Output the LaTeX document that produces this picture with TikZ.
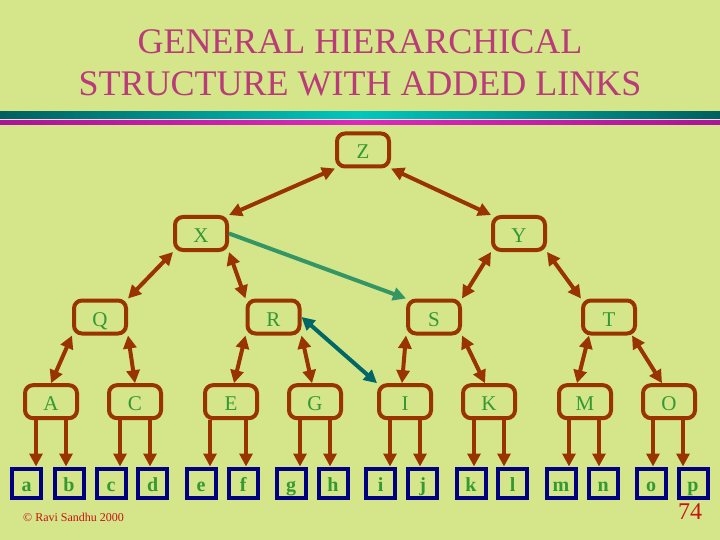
\documentclass[tikz,border=0pt]{standalone}
\usepackage{fontspec}
\setmainfont{Liberation Serif}
\usetikzlibrary{arrows.meta,calc}
\definecolor{bg}{RGB}{212,229,138}
\definecolor{brn}{RGB}{153,51,0}
\definecolor{txtg}{RGB}{51,153,51}
\definecolor{navyb}{RGB}{0,0,128}
\definecolor{ttl}{RGB}{185,60,120}
\definecolor{lnkg}{RGB}{51,150,100}
\definecolor{lnkt}{RGB}{0,102,102}
\definecolor{tealdark}{RGB}{0,95,95}
\definecolor{tealmid}{RGB}{0,200,190}
\definecolor{magdark}{RGB}{170,20,150}
\definecolor{magmid}{RGB}{220,40,190}
\definecolor{gapc}{RGB}{235,230,215}
\definecolor{redtxt}{RGB}{200,20,20}
\begin{document}
\begin{tikzpicture}[x=1pt,y=-1pt,
  box/.style={draw=brn,line width=4pt,rounded corners=8pt,minimum width=52pt,minimum height=33pt,inner sep=0pt,text=txtg,font=\fontsize{21}{21}\selectfont,text height=22pt,text depth=4pt},
  leaf/.style={draw=navyb,line width=4pt,minimum width=29pt,minimum height=29pt,inner sep=0pt,text=txtg,font=\fontsize{20}{20}\selectfont\bfseries,text height=20pt,text depth=4pt},
  ttlstyle/.style={text=ttl,font=\fontsize{36}{36}\selectfont,inner sep=0pt,anchor=base},
  tip/.tip={Triangle[length=13pt,width=13pt]},
  arr/.style={draw=brn,line width=4pt,-tip},
  darr/.style={draw=brn,line width=4pt,tip-tip},
  lnkone/.style={draw=lnkg,line width=4pt,-tip},
  lnktwo/.style={draw=lnkt,line width=4pt,tip-tip}]
\fill[bg] (0,0) rectangle (720,540);
\useasboundingbox (0,0) rectangle (720,540);
% title
\node[ttlstyle] (t1) at (360,53.5) {GENERAL HIERARCHICAL};
\node[ttlstyle] (t2) at (360,95.5) {STRUCTURE WITH ADDED LINKS};
% stripes
\shade[left color=tealdark,right color=tealdark,middle color=tealmid] (0,111.5) rectangle (720,119);
\fill[gapc] (0,119) rectangle (720,120.7);
\shade[left color=magdark,right color=magdark,middle color=magmid] (0,120.7) rectangle (720,125);
% nodes
\node[box] (Z) at (363,150) {Z};
\node[box] (X) at (201,233.5) {X};
\node[box] (Y) at (519,233.5) {Y};
\node[box] (Q) at (100,317) {Q};
\node[box] (R) at (273.5,317) {R};
\node[box] (S) at (434,317) {S};
\node[box] (T) at (609,317) {T};
\foreach \n/\x in {A/51,C/135,E/231,G/315,I/405,K/489,M/585,O/669}
  \node[box] (\n) at (\x,401.7) {\n};
\foreach \n/\x in {a/26.7,b/69,c/111,d/152.7,e/201,f/243.3,g/291,h/333,i/380.7,j/422.7,k/471,l/512.7,m/561,n/603.3,o/651,p/693}
  \node[leaf] (\n) at (\x,483) {\n};
% tree links
\draw[darr] (Z.south west) -- (X.north east);
\draw[darr] (Z.south east) -- (Y.north west);
\draw[darr] (X.south west) -- (Q.north east);
\draw[darr] (X.south east) -- (R.north west);
\draw[darr] (Y.south west) -- (S.north east);
\draw[darr] (Y.south east) -- (T.north west);
\draw[darr] (Q.south west) -- (A.north);
\draw[darr] (Q.south east) -- (C.north);
\draw[darr] (R.south west) -- ([xshift=3pt]E.north);
\draw[darr] (R.south east) -- ([xshift=-3pt]G.north);
\draw[darr] (S.south west) -- ([xshift=-3pt]I.north);
\draw[darr] (S.south east) -- ([xshift=-4pt]K.north);
\draw[darr] ([xshift=8pt]T.south west) -- ([xshift=-8pt]M.north);
\draw[darr] ([xshift=-5pt]T.south east) -- ([xshift=-7pt]O.north);
\foreach \P/\dl/\L/\dr/\R in {A/-15/a/15/b,C/-15/c/15/d,E/-21/e/15/f,G/-15/g/15/h,I/-15/i/15/j,K/-15/k/15/l,M/-16/m/14/n,O/-16/o/14/p}{
  \coordinate (\P1) at ([xshift=\dl pt]\P.south);
  \coordinate (\P2) at ([xshift=\dr pt]\P.south);
  \draw[arr] (\P1) -- (\P1 |- \L.north);
  \draw[arr] (\P2) -- (\P2 |- \R.north);
}
% added links
\draw[lnkone] (X.east) -- (S.north west);
\draw[lnktwo] (R.east) -- (I.north west);
% footer
\node[anchor=base west,inner sep=0pt,text=redtxt,font=\fontsize{12}{12}\selectfont] (cr) at (23,521) {© Ravi Sandhu 2000};
\node[anchor=base,inner sep=0pt,text=redtxt,font=\fontsize{24}{24}\selectfont] (pg) at (690,519) {74};
\end{tikzpicture}
\end{document}
